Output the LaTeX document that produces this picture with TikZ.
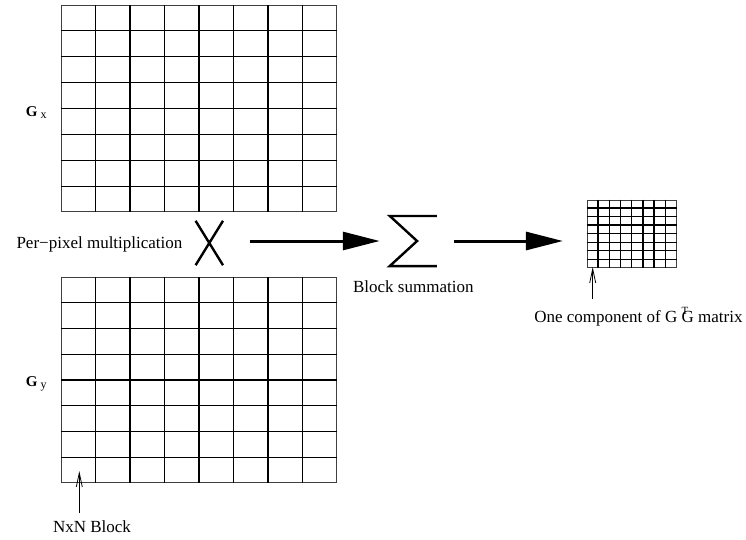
\documentclass[tikz,border=0pt]{standalone}
\usepackage{fontspec}
\setmainfont{Liberation Serif}
\usetikzlibrary{arrows.meta,positioning,calc}

\tikzset{
  blockgrid/.style={rectangle, draw=black!75, line width=0.9pt, inner sep=0pt},
  gridline/.style={line width=1.4pt},
  lbl/.style={inner sep=0pt, font=\fontsize{17}{20}\selectfont},
  bigarrow/.style={line width=3pt, -{Triangle[length=37pt,width=18pt]}},
  thinarrow/.style={line width=0.8pt, -{Straight Barb[length=14pt,width=6pt]}},
  penline/.style={line width=2.4pt},
}

\begin{document}
\begin{tikzpicture}[x=1pt, y=-1pt]
  \useasboundingbox (0,0) rectangle (746,539);

  % the three block grids
  \node[blockgrid, minimum width=275.4pt, minimum height=206.4pt] (gx) at (199,108.5) {};
  \node[blockgrid, minimum width=275.4pt, minimum height=205.4pt] (gy) at (199,380) {};
  \node[blockgrid, minimum width=88.7pt, minimum height=67.3pt] (gtg) at (631.7,233.7) {};
  \foreach \g in {gx,gy,gtg}
    \foreach \i in {1,...,7} {
      \draw[gridline] ($(\g.north west)!\i/8!(\g.north east)$) -- ($(\g.south west)!\i/8!(\g.south east)$);
      \draw[gridline] ($(\g.north west)!\i/8!(\g.south west)$) -- ($(\g.north east)!\i/8!(\g.south east)$);
    }

  % operators
  \node[minimum width=27pt, minimum height=44pt, inner sep=0pt] (mult) at (209.3,243) {};
  \draw[penline] (mult.north west) -- (mult.south east) (mult.north east) -- (mult.south west);
  \node[minimum width=46.7pt, minimum height=49.7pt, inner sep=0pt] (sum) at (413.3,241) {};
  \draw[penline, line join=miter] (sum.north east) -- (sum.north west) -- ($(sum.west)!0.58!(sum.east)$) -- (sum.south west) -- (sum.south east);

  \draw[bigarrow, shorten <=27pt, shorten >=10pt] (mult.east |- sum.east) -- (sum.west);
  \draw[bigarrow, shorten <=17pt, shorten >=24pt] (sum.east) -- (sum.east -| gtg.west);

  % labels
  \node[lbl, anchor=base east] (gxl) at ($(gx.west)+(-14,8.2)$) {{\fontsize{15}{18}\selectfont\textbf{G}}\kern3pt\raisebox{-1.5pt}{\fontsize{12}{14}\selectfont x}};
  \node[lbl, anchor=base east] (gyl) at ($(gy.west)+(-14,6.7)$) {{\fontsize{15}{18}\selectfont\textbf{G}}\kern3pt\raisebox{-1.5pt}{\fontsize{12}{14}\selectfont y}};
  \node[lbl, left=13pt of mult, yshift=-1pt] (ppm) {Per−pixel multiplication};
  \node[lbl, below=14pt of sum] (bsum) {Block summation};

  \coordinate (blk) at (79.3,471);
  \node[lbl, anchor=base] (nxn) at (92,532) {NxN Block};
  \draw[thinarrow, shorten <=7pt] (blk |- nxn.north) -- (blk);

  \coordinate (cmp) at (592.7,267);
  \node[lbl, anchor=base] (comp) at (638.4,322) {One component of G \rlap{\raisebox{8pt}{\fontsize{11}{12}\selectfont T}}G matrix};
  \draw[thinarrow] ([yshift=8pt]cmp |- comp.north) -- (cmp);
\end{tikzpicture}
\end{document}
